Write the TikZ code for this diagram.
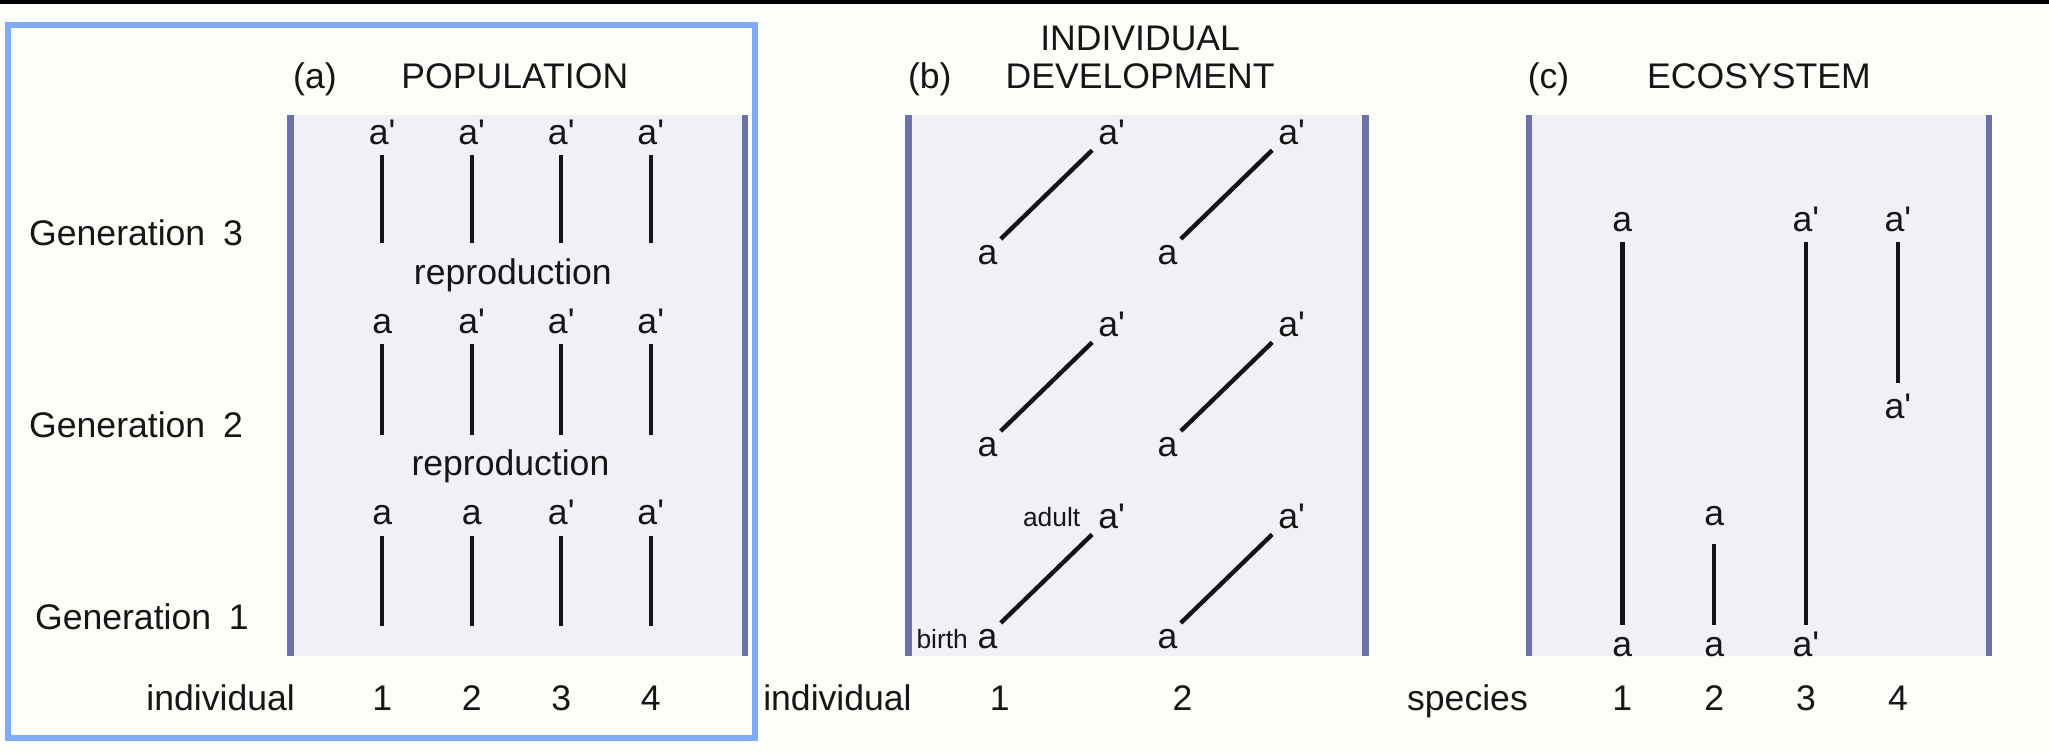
\documentclass[tikz,border=0pt]{standalone}
\usepackage{fontspec}
\setmainfont{Liberation Sans}[Ligatures=TeXOff]
\definecolor{bg}{RGB}{253,253,249}
\definecolor{panelfill}{RGB}{240,241,246}
\definecolor{barc}{RGB}{108,113,168}
\definecolor{framec}{RGB}{127,170,248}
\definecolor{txtc}{RGB}{22,22,22}
\tikzset{
  txt/.style={inner sep=0pt, text=txtc, font=\fontsize{15.5pt}{18pt}\selectfont},
  smalltxt/.style={inner sep=0pt, text=txtc, font=\fontsize{11.5pt}{13pt}\selectfont},
  lbl/.style={txt, text height=11.2pt, text depth=0pt, anchor=base},
  ln/.style={line width=1.9pt, draw=black!92},
  bar/.style={line width=2.9pt, draw=barc},
  frame/.style={line width=2.6pt, draw=framec},
}
\begin{document}
\begin{tikzpicture}[x=0.02cm,y=-0.02cm]
\useasboundingbox (0,0) rectangle (1568,576);
\fill[bg] (0,0) rectangle (1568,576);
\fill[black] (0,0) rectangle (1568,3);
\draw[frame] (6.1,19.1) rectangle (577.5,564.4);
% panels
\foreach \l/\r in {222.3/570, 695/1045, 1170/1522} {
  \fill[panelfill] (\l,88) rectangle (\r,502);
  \draw[bar] (\l,88) -- (\l,502);
  \draw[bar] (\r,88) -- (\r,502);
}
% ---------- (a) POPULATION ----------
\node[txt, anchor=base] (ta) at (241,67.5) {(a)};
\node[txt, anchor=base] (tpop) at (394,67.5) {POPULATION};
\node[txt, anchor=base west] (g3) at (22,188) {Generation\hspace{0.5em}3};
\node[txt, anchor=base west] (g2) at (22,335) {Generation\hspace{0.5em}2};
\node[txt, anchor=base west] (g1) at (26.5,482) {Generation\hspace{0.5em}1};
\node[txt, anchor=base] (rep1) at (392.5,217.5) {reproduction};
\node[txt, anchor=base] (rep2) at (390.6,364) {reproduction};
% row 1
\node[lbl] (a11) at (292.5,110.2) {a'};
\node[lbl] (a12) at (361,110.2) {a'};
\node[lbl] (a13) at (429.5,110.2) {a'};
\node[lbl] (a14) at (498,110.2) {a'};
% row 2
\node[lbl] (a21) at (292.5,255) {a};
\node[lbl] (a22) at (361,255) {a'};
\node[lbl] (a23) at (429.5,255) {a'};
\node[lbl] (a24) at (498,255) {a'};
% row 3
\node[lbl] (a31) at (292.5,401.5) {a};
\node[lbl] (a32) at (361,401.5) {a};
\node[lbl] (a33) at (429.5,401.5) {a'};
\node[lbl] (a34) at (498,401.5) {a'};
\foreach \c/\x in {1/292.5,2/361,3/429.5,4/498} {
  \coordinate (e1\c) at (\x,186.2);
  \coordinate (e2\c) at (\x,332.5);
  \coordinate (e3\c) at (\x,479);
  \draw[ln, shorten <=0.16cm] (a1\c) -- (e1\c);
  \draw[ln, shorten <=0.16cm] (a2\c) -- (e2\c);
  \draw[ln, shorten <=0.16cm] (a3\c) -- (e3\c);
}
\node[txt, anchor=base east] (inda) at (226,544) {individual};
\node[txt, anchor=base] (na1) at (292.5,544) {1};
\node[txt, anchor=base] (na2) at (361,544) {2};
\node[txt, anchor=base] (na3) at (429.5,544) {3};
\node[txt, anchor=base] (na4) at (498,544) {4};
% ---------- (b) INDIVIDUAL DEVELOPMENT ----------
\node[txt, anchor=base] (tb) at (711.5,67.5) {(b)};
\node[txt, anchor=base] (tind) at (872.5,39) {INDIVIDUAL};
\node[txt, anchor=base] (tdev) at (872.5,67.5) {DEVELOPMENT};
\foreach \k/\ya/\yp in {1/202.5/110.3, 2/349.5/257.3, 3/496.3/404.3} {
  \node[lbl] (b1a\k) at (755.7,\ya) {a};
  \node[lbl] (b1p\k) at (850.7,\yp) {a'};
  \node[lbl] (b2a\k) at (893.5,\ya) {a};
  \node[lbl] (b2p\k) at (988.5,\yp) {a'};
  \draw[ln, shorten <=0.061cm, shorten >=0.124cm] (b1a\k) -- (b1p\k);
  \draw[ln, shorten <=0.061cm, shorten >=0.124cm] (b2a\k) -- (b2p\k);
}
\node[smalltxt, anchor=base west] (adult) at (782.5,403) {adult};
\node[smalltxt, anchor=base west] (birth) at (701,496.1) {birth};
\node[txt, anchor=base east] (indb) at (698,544) {individual};
\node[txt, anchor=base] (nb1) at (765,544) {1};
\node[txt, anchor=base] (nb2) at (905,544) {2};
% ---------- (c) ECOSYSTEM ----------
\node[txt, anchor=base] (tc) at (1185,67.5) {(c)};
\node[txt, anchor=base] (teco) at (1346,67.5) {ECOSYSTEM};
\node[lbl] (c1t) at (1241.5,177.3) {a};
\node[lbl] (c1b) at (1241.5,502) {a};
\node[lbl] (c2t) at (1311.8,402.4) {a};
\node[lbl] (c2b) at (1311.8,502) {a};
\node[lbl] (c3t) at (1382,177.3) {a'};
\node[lbl] (c3b) at (1382,502) {a'};
\node[lbl] (c4t) at (1452.4,177.3) {a'};
\node[lbl] (c4b) at (1452.4,320) {a'};
\draw[ln, shorten <=0.15cm, shorten >=0.07cm] (c1t) -- (c1b);
\draw[ln, shorten <=0.266cm, shorten >=0.07cm] (c2t) -- (c2b);
\draw[ln, shorten <=0.15cm, shorten >=0.07cm] (c3t) -- (c3b);
\draw[ln, shorten <=0.15cm, shorten >=0.14cm] (c4t) -- (c4b);
\node[txt, anchor=base east] (spec) at (1169.5,544) {species};
\node[txt, anchor=base] (nc1) at (1241.5,544) {1};
\node[txt, anchor=base] (nc2) at (1311.8,544) {2};
\node[txt, anchor=base] (nc3) at (1382,544) {3};
\node[txt, anchor=base] (nc4) at (1452.4,544) {4};
\end{tikzpicture}
\end{document}
